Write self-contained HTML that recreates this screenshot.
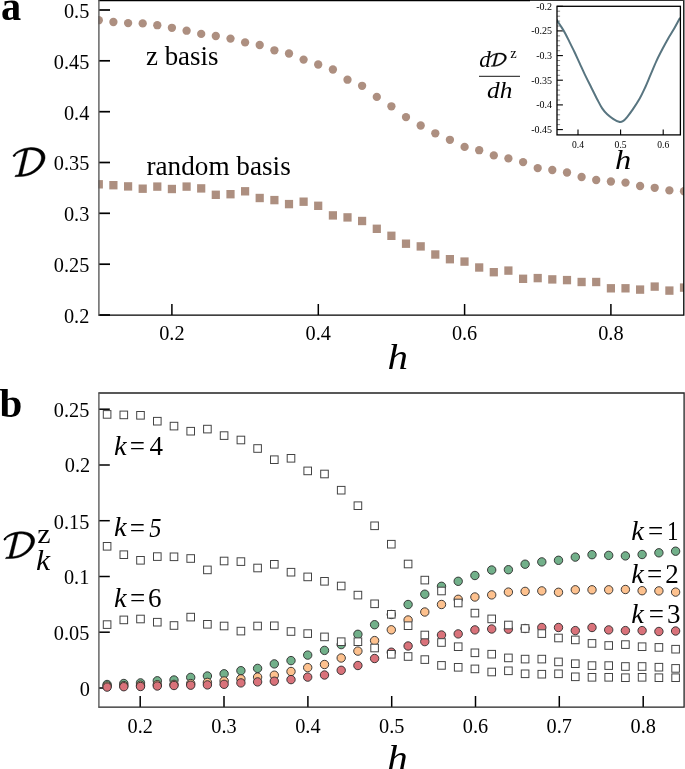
<!DOCTYPE html><html><head><meta charset="utf-8"><style>html,body{margin:0;padding:0;background:#fff;}svg{display:block;will-change:transform;font-family:'Liberation Serif', serif;}</style></head><body><svg width="685" height="769" viewBox="0 0 685 769"><rect width="685" height="769" fill="#fff"/><defs><clipPath id="ca"><rect x="98.2" y="0" width="585.5" height="315.2"/></clipPath><clipPath id="cb"><rect x="98.2" y="393" width="585.8" height="314"/></clipPath><clipPath id="ci"><rect x="557" y="6.3" width="123.4" height="128.6"/></clipPath></defs><line x1="99" y1="10.0" x2="110" y2="10.0" stroke="#000" stroke-width="1.7"/><line x1="99" y1="60.8" x2="110" y2="60.8" stroke="#000" stroke-width="1.7"/><line x1="99" y1="111.7" x2="110" y2="111.7" stroke="#000" stroke-width="1.7"/><line x1="99" y1="162.5" x2="110" y2="162.5" stroke="#000" stroke-width="1.7"/><line x1="99" y1="213.3" x2="110" y2="213.3" stroke="#000" stroke-width="1.7"/><line x1="99" y1="264.2" x2="110" y2="264.2" stroke="#000" stroke-width="1.7"/><line x1="99" y1="315.0" x2="110" y2="315.0" stroke="#000" stroke-width="1.7"/><line x1="171.9" y1="304" x2="171.9" y2="315" stroke="#000" stroke-width="1.5"/><line x1="318.3" y1="304" x2="318.3" y2="315" stroke="#000" stroke-width="1.5"/><line x1="464.6" y1="304" x2="464.6" y2="315" stroke="#000" stroke-width="1.5"/><line x1="610.9" y1="304" x2="610.9" y2="315" stroke="#000" stroke-width="1.5"/><g clip-path="url(#ca)" fill="#ad8f80"><circle cx="98.8" cy="20.2" r="4.15"/><circle cx="113.4" cy="22" r="4.15"/><circle cx="128.1" cy="23.1" r="4.15"/><circle cx="142.7" cy="23.4" r="4.15"/><circle cx="157.3" cy="25.2" r="4.15"/><circle cx="171.9" cy="27.8" r="4.15"/><circle cx="186.6" cy="30.7" r="4.15"/><circle cx="201.2" cy="33.9" r="4.15"/><circle cx="215.8" cy="36" r="4.15"/><circle cx="230.5" cy="38.6" r="4.15"/><circle cx="245.1" cy="42.4" r="4.15"/><circle cx="259.7" cy="45" r="4.15"/><circle cx="274.4" cy="50.3" r="4.15"/><circle cx="289.0" cy="53.5" r="4.15"/><circle cx="303.6" cy="59.6" r="4.15"/><circle cx="318.2" cy="64.5" r="4.15"/><circle cx="332.9" cy="69.5" r="4.15"/><circle cx="347.5" cy="79.7" r="4.15"/><circle cx="362.1" cy="85.8" r="4.15"/><circle cx="376.8" cy="96.9" r="4.15"/><circle cx="391.4" cy="106.3" r="4.15"/><circle cx="406.0" cy="117.1" r="4.15"/><circle cx="420.7" cy="125.5" r="4.15"/><circle cx="435.3" cy="133.3" r="4.15"/><circle cx="449.9" cy="139.8" r="4.15"/><circle cx="464.6" cy="146.9" r="4.15"/><circle cx="479.2" cy="150.2" r="4.15"/><circle cx="493.8" cy="155.4" r="4.15"/><circle cx="508.4" cy="158.4" r="4.15"/><circle cx="523.1" cy="162.1" r="4.15"/><circle cx="537.7" cy="168.1" r="4.15"/><circle cx="552.3" cy="170" r="4.15"/><circle cx="567.0" cy="172.5" r="4.15"/><circle cx="581.6" cy="177" r="4.15"/><circle cx="596.2" cy="180" r="4.15"/><circle cx="610.9" cy="181.5" r="4.15"/><circle cx="625.5" cy="182.6" r="4.15"/><circle cx="640.1" cy="186" r="4.15"/><circle cx="654.7" cy="187.8" r="4.15"/><circle cx="669.4" cy="190.4" r="4.15"/><circle cx="684.0" cy="191.2" r="4.15"/><rect x="94.7" y="180.1" width="8.2" height="8.4"/><rect x="109.3" y="181.0" width="8.2" height="8.4"/><rect x="124.0" y="182.2" width="8.2" height="8.4"/><rect x="138.6" y="184.5" width="8.2" height="8.4"/><rect x="153.2" y="182.4" width="8.2" height="8.4"/><rect x="167.8" y="184.8" width="8.2" height="8.4"/><rect x="182.5" y="182.4" width="8.2" height="8.4"/><rect x="197.1" y="184.2" width="8.2" height="8.4"/><rect x="211.7" y="190.6" width="8.2" height="8.4"/><rect x="226.4" y="190.0" width="8.2" height="8.4"/><rect x="241.0" y="187.1" width="8.2" height="8.4"/><rect x="255.6" y="193.8" width="8.2" height="8.4"/><rect x="270.3" y="195.9" width="8.2" height="8.4"/><rect x="284.9" y="199.9" width="8.2" height="8.4"/><rect x="299.5" y="197.5" width="8.2" height="8.4"/><rect x="314.1" y="201.6" width="8.2" height="8.4"/><rect x="328.8" y="211.2" width="8.2" height="8.4"/><rect x="343.4" y="213.2" width="8.2" height="8.4"/><rect x="358.0" y="216.8" width="8.2" height="8.4"/><rect x="372.7" y="224.6" width="8.2" height="8.4"/><rect x="387.3" y="231.6" width="8.2" height="8.4"/><rect x="401.9" y="239.5" width="8.2" height="8.4"/><rect x="416.6" y="242.2" width="8.2" height="8.4"/><rect x="431.2" y="250.3" width="8.2" height="8.4"/><rect x="445.8" y="255.0" width="8.2" height="8.4"/><rect x="460.4" y="257.4" width="8.2" height="8.4"/><rect x="475.1" y="263.3" width="8.2" height="8.4"/><rect x="489.7" y="268.0" width="8.2" height="8.4"/><rect x="504.3" y="266.4" width="8.2" height="8.4"/><rect x="519.0" y="274.6" width="8.2" height="8.4"/><rect x="533.6" y="273.9" width="8.2" height="8.4"/><rect x="548.2" y="275.2" width="8.2" height="8.4"/><rect x="562.9" y="275.9" width="8.2" height="8.4"/><rect x="577.5" y="277.8" width="8.2" height="8.4"/><rect x="592.1" y="277.8" width="8.2" height="8.4"/><rect x="606.8" y="284.1" width="8.2" height="8.4"/><rect x="621.4" y="284.1" width="8.2" height="8.4"/><rect x="636.0" y="285.4" width="8.2" height="8.4"/><rect x="650.6" y="282.4" width="8.2" height="8.4"/><rect x="665.3" y="286.4" width="8.2" height="8.4"/><rect x="679.9" y="283.4" width="8.2" height="8.4"/></g><path d="M530 0.3 H683.8 V315.2 H98.5" fill="none" stroke="#000" stroke-width="1.3"/><line x1="98.5" y1="0.5" x2="530" y2="0.5" stroke="#000" stroke-width="1.3"/><rect x="530" y="0" width="154" height="0.4" fill="#fff" fill-opacity="0.5"/><line x1="98.9" y1="0" x2="98.9" y2="315.8" stroke="#5a5a5a" stroke-width="1.4"/><text x="89.3" y="17.9" font-size="20.3" text-anchor="end">0.5</text><text x="89.3" y="68.7" font-size="20.3" text-anchor="end">0.45</text><text x="89.3" y="119.6" font-size="20.3" text-anchor="end">0.4</text><text x="89.3" y="170.4" font-size="20.3" text-anchor="end">0.35</text><text x="89.3" y="221.2" font-size="20.3" text-anchor="end">0.3</text><text x="89.3" y="272.1" font-size="20.3" text-anchor="end">0.25</text><text x="89.3" y="322.9" font-size="20.3" text-anchor="end">0.2</text><text x="171.9" y="339.6" font-size="20.3" text-anchor="middle">0.2</text><text x="318.3" y="339.6" font-size="20.3" text-anchor="middle">0.4</text><text x="464.6" y="339.6" font-size="20.3" text-anchor="middle">0.6</text><text x="610.9" y="339.6" font-size="20.3" text-anchor="middle">0.8</text><text transform="translate(1.1,19.8) scale(0.96,1)" font-size="42" font-weight="bold">a</text><text transform="translate(387.5,368.6) scale(1.14,1)" font-size="36" font-style="italic">h</text><g transform="translate(13.1,147.2) scale(0.985,0.985)" fill="#000" stroke="#000" stroke-width="0.5" stroke-linejoin="round"><path d="M0.2 8.4 C2.4 5 8 1.4 16.5 0.5 C26 -0.3 33 4 32.4 11 C31.7 19 22 28.6 10 29.6 L1.8 29.9 L2.6 28.4 L10 27.8 C20 26.6 28.5 18.5 28.8 11 C29 5 23 2.3 16.5 2.6 C9 3 3.6 6 0.9 9 Z"/><path d="M11.9 2.1 L15 2.1 L8.9 28.2 L5.6 28.2 Z"/><ellipse cx="1.3" cy="8.5" rx="1.3" ry="0.9" transform="rotate(-35 1.3 8.5)"/></g><text x="146" y="64.5" font-size="26.9">z basis</text><text x="146.5" y="175" font-size="27.2">random basis</text><rect x="557" y="6.3" width="123.4" height="128.6" fill="#fff"/><line x1="557" y1="6.3" x2="562.9" y2="6.3" stroke="#000" stroke-width="1.1"/><line x1="557" y1="11.2" x2="560.1" y2="11.2" stroke="#555" stroke-width="0.7"/><line x1="557" y1="16.2" x2="560.1" y2="16.2" stroke="#555" stroke-width="0.7"/><line x1="557" y1="21.1" x2="560.1" y2="21.1" stroke="#555" stroke-width="0.7"/><line x1="557" y1="26.0" x2="560.1" y2="26.0" stroke="#555" stroke-width="0.7"/><line x1="557" y1="30.9" x2="562.9" y2="30.9" stroke="#000" stroke-width="1.1"/><line x1="557" y1="35.9" x2="560.1" y2="35.9" stroke="#555" stroke-width="0.7"/><line x1="557" y1="40.8" x2="560.1" y2="40.8" stroke="#555" stroke-width="0.7"/><line x1="557" y1="45.7" x2="560.1" y2="45.7" stroke="#555" stroke-width="0.7"/><line x1="557" y1="50.7" x2="560.1" y2="50.7" stroke="#555" stroke-width="0.7"/><line x1="557" y1="55.6" x2="562.9" y2="55.6" stroke="#000" stroke-width="1.1"/><line x1="557" y1="60.5" x2="560.1" y2="60.5" stroke="#555" stroke-width="0.7"/><line x1="557" y1="65.5" x2="560.1" y2="65.5" stroke="#555" stroke-width="0.7"/><line x1="557" y1="70.4" x2="560.1" y2="70.4" stroke="#555" stroke-width="0.7"/><line x1="557" y1="75.3" x2="560.1" y2="75.3" stroke="#555" stroke-width="0.7"/><line x1="557" y1="80.2" x2="562.9" y2="80.2" stroke="#000" stroke-width="1.1"/><line x1="557" y1="85.2" x2="560.1" y2="85.2" stroke="#555" stroke-width="0.7"/><line x1="557" y1="90.1" x2="560.1" y2="90.1" stroke="#555" stroke-width="0.7"/><line x1="557" y1="95.0" x2="560.1" y2="95.0" stroke="#555" stroke-width="0.7"/><line x1="557" y1="100.0" x2="560.1" y2="100.0" stroke="#555" stroke-width="0.7"/><line x1="557" y1="104.9" x2="562.9" y2="104.9" stroke="#000" stroke-width="1.1"/><line x1="557" y1="109.8" x2="560.1" y2="109.8" stroke="#555" stroke-width="0.7"/><line x1="557" y1="114.8" x2="560.1" y2="114.8" stroke="#555" stroke-width="0.7"/><line x1="557" y1="119.7" x2="560.1" y2="119.7" stroke="#555" stroke-width="0.7"/><line x1="557" y1="124.6" x2="560.1" y2="124.6" stroke="#555" stroke-width="0.7"/><line x1="557" y1="129.6" x2="562.9" y2="129.6" stroke="#000" stroke-width="1.1"/><line x1="578.0" y1="129.5" x2="578.0" y2="135" stroke="#000" stroke-width="1.1"/><line x1="620.6" y1="129.5" x2="620.6" y2="135" stroke="#000" stroke-width="1.1"/><line x1="663.2" y1="129.5" x2="663.2" y2="135" stroke="#000" stroke-width="1.1"/><g clip-path="url(#ci)"><path d="M556.5,19.6 C557.38,20.93 560.25,25.12 561.8,27.6 C563.35,30.08 564.48,32.03 565.8,34.5 C567.12,36.97 568.23,39.45 569.7,42.4 C571.17,45.35 572.95,48.75 574.6,52.2 C576.25,55.65 577.78,59.15 579.6,63.1 C581.42,67.05 583.53,71.80 585.5,75.9 C587.47,80.00 589.43,83.77 591.4,87.7 C593.37,91.63 595.50,96.05 597.3,99.5 C599.10,102.95 600.55,105.93 602.2,108.4 C603.85,110.87 605.38,112.57 607.2,114.3 C609.02,116.03 611.13,117.55 613.1,118.8 C615.07,120.05 617.37,121.40 619,121.8 C620.63,122.20 621.58,121.95 622.9,121.2 C624.22,120.45 625.25,119.27 626.9,117.3 C628.55,115.33 630.67,112.53 632.8,109.4 C634.93,106.27 637.73,101.95 639.7,98.5 C641.67,95.05 642.80,92.63 644.6,88.7 C646.40,84.77 648.53,79.50 650.5,74.9 C652.47,70.30 654.43,65.37 656.4,61.1 C658.37,56.83 660.33,53.08 662.3,49.3 C664.27,45.52 666.22,41.85 668.2,38.4 C670.18,34.95 672.22,32.05 674.2,28.6 C676.18,25.15 679.12,19.52 680.1,17.7" fill="none" stroke="#587580" stroke-width="2" stroke-linejoin="round"/></g><rect x="557" y="6.3" width="123.4" height="128.6" fill="none" stroke="#000" stroke-width="1.3"/><text x="552" y="9.8" font-size="10" text-anchor="end">-0.2</text><text x="552" y="34.4" font-size="10" text-anchor="end">-0.25</text><text x="552" y="59.1" font-size="10" text-anchor="end">-0.3</text><text x="552" y="83.7" font-size="10" text-anchor="end">-0.35</text><text x="552" y="108.4" font-size="10" text-anchor="end">-0.4</text><text x="552" y="133.1" font-size="10" text-anchor="end">-0.45</text><text x="578.0" y="147.8" font-size="9.6" text-anchor="middle">0.4</text><text x="620.6" y="147.8" font-size="9.6" text-anchor="middle">0.5</text><text x="663.2" y="147.8" font-size="9.6" text-anchor="middle">0.6</text><text transform="translate(615,169.0) scale(1.2,1)" font-size="27" font-style="italic">h</text><text transform="translate(479.2,66.8) scale(1.0,1)" font-size="23" font-style="italic">d</text><g transform="translate(490.2,52.9) scale(0.5,0.45)" fill="#000" stroke="#000" stroke-width="0.9" stroke-linejoin="round"><path d="M0.2 8.4 C2.4 5 8 1.4 16.5 0.5 C26 -0.3 33 4 32.4 11 C31.7 19 22 28.6 10 29.6 L1.8 29.9 L2.6 28.4 L10 27.8 C20 26.6 28.5 18.5 28.8 11 C29 5 23 2.3 16.5 2.6 C9 3 3.6 6 0.9 9 Z"/><path d="M11.9 2.1 L15 2.1 L8.9 28.2 L5.6 28.2 Z"/><ellipse cx="1.3" cy="8.5" rx="1.3" ry="0.9" transform="rotate(-35 1.3 8.5)"/></g><text x="510.2" y="57.6" font-size="14.5">z</text><line x1="479" y1="76.4" x2="520" y2="76.4" stroke="#444" stroke-width="1.2"/><text transform="translate(487,98) scale(1.1,1)" font-size="23" font-style="italic">dh</text><line x1="99" y1="409.2" x2="109.8" y2="409.2" stroke="#000" stroke-width="1.5"/><line x1="99" y1="465.0" x2="109.8" y2="465.0" stroke="#000" stroke-width="1.5"/><line x1="99" y1="520.7" x2="109.8" y2="520.7" stroke="#000" stroke-width="1.5"/><line x1="99" y1="576.5" x2="109.8" y2="576.5" stroke="#000" stroke-width="1.5"/><line x1="99" y1="632.2" x2="109.8" y2="632.2" stroke="#000" stroke-width="1.5"/><line x1="99" y1="688.0" x2="109.8" y2="688.0" stroke="#000" stroke-width="1.5"/><line x1="140.2" y1="696" x2="140.2" y2="707" stroke="#000" stroke-width="1.5"/><line x1="224.0" y1="696" x2="224.0" y2="707" stroke="#000" stroke-width="1.5"/><line x1="307.9" y1="696" x2="307.9" y2="707" stroke="#000" stroke-width="1.5"/><line x1="391.7" y1="696" x2="391.7" y2="707" stroke="#000" stroke-width="1.5"/><line x1="475.5" y1="696" x2="475.5" y2="707" stroke="#000" stroke-width="1.5"/><line x1="559.3" y1="696" x2="559.3" y2="707" stroke="#000" stroke-width="1.5"/><line x1="643.2" y1="696" x2="643.2" y2="707" stroke="#000" stroke-width="1.5"/><g clip-path="url(#cb)"><circle cx="107.1" cy="684.5" r="4.2" fill="#72b08a" stroke="#2a2a2a" stroke-width="0.9"/><circle cx="123.8" cy="683.5" r="4.2" fill="#72b08a" stroke="#2a2a2a" stroke-width="0.9"/><circle cx="140.5" cy="682.9" r="4.2" fill="#72b08a" stroke="#2a2a2a" stroke-width="0.9"/><circle cx="157.3" cy="680.8" r="4.2" fill="#72b08a" stroke="#2a2a2a" stroke-width="0.9"/><circle cx="174.0" cy="680" r="4.2" fill="#72b08a" stroke="#2a2a2a" stroke-width="0.9"/><circle cx="190.7" cy="677.4" r="4.2" fill="#72b08a" stroke="#2a2a2a" stroke-width="0.9"/><circle cx="207.4" cy="676" r="4.2" fill="#72b08a" stroke="#2a2a2a" stroke-width="0.9"/><circle cx="224.1" cy="673.8" r="4.2" fill="#72b08a" stroke="#2a2a2a" stroke-width="0.9"/><circle cx="240.9" cy="670.7" r="4.2" fill="#72b08a" stroke="#2a2a2a" stroke-width="0.9"/><circle cx="257.6" cy="668.4" r="4.2" fill="#72b08a" stroke="#2a2a2a" stroke-width="0.9"/><circle cx="274.3" cy="663.9" r="4.2" fill="#72b08a" stroke="#2a2a2a" stroke-width="0.9"/><circle cx="291.0" cy="660.6" r="4.2" fill="#72b08a" stroke="#2a2a2a" stroke-width="0.9"/><circle cx="307.7" cy="655.1" r="4.2" fill="#72b08a" stroke="#2a2a2a" stroke-width="0.9"/><circle cx="324.5" cy="650.4" r="4.2" fill="#72b08a" stroke="#2a2a2a" stroke-width="0.9"/><circle cx="341.2" cy="644.6" r="4.2" fill="#72b08a" stroke="#2a2a2a" stroke-width="0.9"/><circle cx="357.9" cy="634.3" r="4.2" fill="#72b08a" stroke="#2a2a2a" stroke-width="0.9"/><circle cx="374.6" cy="624.7" r="4.2" fill="#72b08a" stroke="#2a2a2a" stroke-width="0.9"/><circle cx="391.3" cy="614.5" r="4.2" fill="#72b08a" stroke="#2a2a2a" stroke-width="0.9"/><circle cx="408.1" cy="604.5" r="4.2" fill="#72b08a" stroke="#2a2a2a" stroke-width="0.9"/><circle cx="424.8" cy="594.2" r="4.2" fill="#72b08a" stroke="#2a2a2a" stroke-width="0.9"/><circle cx="441.5" cy="586.3" r="4.2" fill="#72b08a" stroke="#2a2a2a" stroke-width="0.9"/><circle cx="458.2" cy="581.3" r="4.2" fill="#72b08a" stroke="#2a2a2a" stroke-width="0.9"/><circle cx="474.9" cy="575.5" r="4.2" fill="#72b08a" stroke="#2a2a2a" stroke-width="0.9"/><circle cx="491.7" cy="570" r="4.2" fill="#72b08a" stroke="#2a2a2a" stroke-width="0.9"/><circle cx="508.4" cy="569.7" r="4.2" fill="#72b08a" stroke="#2a2a2a" stroke-width="0.9"/><circle cx="525.1" cy="564.2" r="4.2" fill="#72b08a" stroke="#2a2a2a" stroke-width="0.9"/><circle cx="541.8" cy="561.9" r="4.2" fill="#72b08a" stroke="#2a2a2a" stroke-width="0.9"/><circle cx="558.5" cy="560.3" r="4.2" fill="#72b08a" stroke="#2a2a2a" stroke-width="0.9"/><circle cx="575.3" cy="557.1" r="4.2" fill="#72b08a" stroke="#2a2a2a" stroke-width="0.9"/><circle cx="592.0" cy="554.7" r="4.2" fill="#72b08a" stroke="#2a2a2a" stroke-width="0.9"/><circle cx="608.7" cy="555.4" r="4.2" fill="#72b08a" stroke="#2a2a2a" stroke-width="0.9"/><circle cx="625.4" cy="555.9" r="4.2" fill="#72b08a" stroke="#2a2a2a" stroke-width="0.9"/><circle cx="642.1" cy="554.5" r="4.2" fill="#72b08a" stroke="#2a2a2a" stroke-width="0.9"/><circle cx="658.9" cy="552.8" r="4.2" fill="#72b08a" stroke="#2a2a2a" stroke-width="0.9"/><circle cx="675.6" cy="551.2" r="4.2" fill="#72b08a" stroke="#2a2a2a" stroke-width="0.9"/><circle cx="107.1" cy="686" r="4.2" fill="#fdc18e" stroke="#2a2a2a" stroke-width="0.9"/><circle cx="123.8" cy="685.6" r="4.2" fill="#fdc18e" stroke="#2a2a2a" stroke-width="0.9"/><circle cx="140.5" cy="685.2" r="4.2" fill="#fdc18e" stroke="#2a2a2a" stroke-width="0.9"/><circle cx="157.3" cy="684.7" r="4.2" fill="#fdc18e" stroke="#2a2a2a" stroke-width="0.9"/><circle cx="174.0" cy="684.4" r="4.2" fill="#fdc18e" stroke="#2a2a2a" stroke-width="0.9"/><circle cx="190.7" cy="683.6" r="4.2" fill="#fdc18e" stroke="#2a2a2a" stroke-width="0.9"/><circle cx="207.4" cy="682.4" r="4.2" fill="#fdc18e" stroke="#2a2a2a" stroke-width="0.9"/><circle cx="224.1" cy="681" r="4.2" fill="#fdc18e" stroke="#2a2a2a" stroke-width="0.9"/><circle cx="240.9" cy="678.9" r="4.2" fill="#fdc18e" stroke="#2a2a2a" stroke-width="0.9"/><circle cx="257.6" cy="677.1" r="4.2" fill="#fdc18e" stroke="#2a2a2a" stroke-width="0.9"/><circle cx="274.3" cy="675.2" r="4.2" fill="#fdc18e" stroke="#2a2a2a" stroke-width="0.9"/><circle cx="291.0" cy="671.5" r="4.2" fill="#fdc18e" stroke="#2a2a2a" stroke-width="0.9"/><circle cx="307.7" cy="667.6" r="4.2" fill="#fdc18e" stroke="#2a2a2a" stroke-width="0.9"/><circle cx="324.5" cy="664.5" r="4.2" fill="#fdc18e" stroke="#2a2a2a" stroke-width="0.9"/><circle cx="341.2" cy="658" r="4.2" fill="#fdc18e" stroke="#2a2a2a" stroke-width="0.9"/><circle cx="357.9" cy="651.1" r="4.2" fill="#fdc18e" stroke="#2a2a2a" stroke-width="0.9"/><circle cx="374.6" cy="640.6" r="4.2" fill="#fdc18e" stroke="#2a2a2a" stroke-width="0.9"/><circle cx="391.3" cy="629.8" r="4.2" fill="#fdc18e" stroke="#2a2a2a" stroke-width="0.9"/><circle cx="408.1" cy="620" r="4.2" fill="#fdc18e" stroke="#2a2a2a" stroke-width="0.9"/><circle cx="424.8" cy="612" r="4.2" fill="#fdc18e" stroke="#2a2a2a" stroke-width="0.9"/><circle cx="441.5" cy="604.5" r="4.2" fill="#fdc18e" stroke="#2a2a2a" stroke-width="0.9"/><circle cx="458.2" cy="599.3" r="4.2" fill="#fdc18e" stroke="#2a2a2a" stroke-width="0.9"/><circle cx="474.9" cy="597" r="4.2" fill="#fdc18e" stroke="#2a2a2a" stroke-width="0.9"/><circle cx="491.7" cy="594.9" r="4.2" fill="#fdc18e" stroke="#2a2a2a" stroke-width="0.9"/><circle cx="508.4" cy="592.1" r="4.2" fill="#fdc18e" stroke="#2a2a2a" stroke-width="0.9"/><circle cx="525.1" cy="591.4" r="4.2" fill="#fdc18e" stroke="#2a2a2a" stroke-width="0.9"/><circle cx="541.8" cy="590.9" r="4.2" fill="#fdc18e" stroke="#2a2a2a" stroke-width="0.9"/><circle cx="558.5" cy="592.3" r="4.2" fill="#fdc18e" stroke="#2a2a2a" stroke-width="0.9"/><circle cx="575.3" cy="589.8" r="4.2" fill="#fdc18e" stroke="#2a2a2a" stroke-width="0.9"/><circle cx="592.0" cy="589.8" r="4.2" fill="#fdc18e" stroke="#2a2a2a" stroke-width="0.9"/><circle cx="608.7" cy="589.8" r="4.2" fill="#fdc18e" stroke="#2a2a2a" stroke-width="0.9"/><circle cx="625.4" cy="589.5" r="4.2" fill="#fdc18e" stroke="#2a2a2a" stroke-width="0.9"/><circle cx="642.1" cy="590.7" r="4.2" fill="#fdc18e" stroke="#2a2a2a" stroke-width="0.9"/><circle cx="658.9" cy="590.9" r="4.2" fill="#fdc18e" stroke="#2a2a2a" stroke-width="0.9"/><circle cx="675.6" cy="592.1" r="4.2" fill="#fdc18e" stroke="#2a2a2a" stroke-width="0.9"/><circle cx="107.1" cy="687.1" r="4.2" fill="#d9727a" stroke="#2a2a2a" stroke-width="0.9"/><circle cx="123.8" cy="686.7" r="4.2" fill="#d9727a" stroke="#2a2a2a" stroke-width="0.9"/><circle cx="140.5" cy="686.5" r="4.2" fill="#d9727a" stroke="#2a2a2a" stroke-width="0.9"/><circle cx="157.3" cy="686" r="4.2" fill="#d9727a" stroke="#2a2a2a" stroke-width="0.9"/><circle cx="174.0" cy="685.5" r="4.2" fill="#d9727a" stroke="#2a2a2a" stroke-width="0.9"/><circle cx="190.7" cy="685.2" r="4.2" fill="#d9727a" stroke="#2a2a2a" stroke-width="0.9"/><circle cx="207.4" cy="684.9" r="4.2" fill="#d9727a" stroke="#2a2a2a" stroke-width="0.9"/><circle cx="224.1" cy="684.3" r="4.2" fill="#d9727a" stroke="#2a2a2a" stroke-width="0.9"/><circle cx="240.9" cy="682.9" r="4.2" fill="#d9727a" stroke="#2a2a2a" stroke-width="0.9"/><circle cx="257.6" cy="681.9" r="4.2" fill="#d9727a" stroke="#2a2a2a" stroke-width="0.9"/><circle cx="274.3" cy="681.2" r="4.2" fill="#d9727a" stroke="#2a2a2a" stroke-width="0.9"/><circle cx="291.0" cy="679.6" r="4.2" fill="#d9727a" stroke="#2a2a2a" stroke-width="0.9"/><circle cx="307.7" cy="677.1" r="4.2" fill="#d9727a" stroke="#2a2a2a" stroke-width="0.9"/><circle cx="324.5" cy="675" r="4.2" fill="#d9727a" stroke="#2a2a2a" stroke-width="0.9"/><circle cx="341.2" cy="670.3" r="4.2" fill="#d9727a" stroke="#2a2a2a" stroke-width="0.9"/><circle cx="357.9" cy="665.5" r="4.2" fill="#d9727a" stroke="#2a2a2a" stroke-width="0.9"/><circle cx="374.6" cy="658.5" r="4.2" fill="#d9727a" stroke="#2a2a2a" stroke-width="0.9"/><circle cx="391.3" cy="652.2" r="4.2" fill="#d9727a" stroke="#2a2a2a" stroke-width="0.9"/><circle cx="408.1" cy="646" r="4.2" fill="#d9727a" stroke="#2a2a2a" stroke-width="0.9"/><circle cx="424.8" cy="641.6" r="4.2" fill="#d9727a" stroke="#2a2a2a" stroke-width="0.9"/><circle cx="441.5" cy="635" r="4.2" fill="#d9727a" stroke="#2a2a2a" stroke-width="0.9"/><circle cx="458.2" cy="633.9" r="4.2" fill="#d9727a" stroke="#2a2a2a" stroke-width="0.9"/><circle cx="474.9" cy="629.9" r="4.2" fill="#d9727a" stroke="#2a2a2a" stroke-width="0.9"/><circle cx="491.7" cy="629" r="4.2" fill="#d9727a" stroke="#2a2a2a" stroke-width="0.9"/><circle cx="508.4" cy="629.2" r="4.2" fill="#d9727a" stroke="#2a2a2a" stroke-width="0.9"/><circle cx="525.1" cy="628.5" r="4.2" fill="#d9727a" stroke="#2a2a2a" stroke-width="0.9"/><circle cx="541.8" cy="627.5" r="4.2" fill="#d9727a" stroke="#2a2a2a" stroke-width="0.9"/><circle cx="558.5" cy="627.5" r="4.2" fill="#d9727a" stroke="#2a2a2a" stroke-width="0.9"/><circle cx="575.3" cy="630.6" r="4.2" fill="#d9727a" stroke="#2a2a2a" stroke-width="0.9"/><circle cx="592.0" cy="627.5" r="4.2" fill="#d9727a" stroke="#2a2a2a" stroke-width="0.9"/><circle cx="608.7" cy="629.9" r="4.2" fill="#d9727a" stroke="#2a2a2a" stroke-width="0.9"/><circle cx="625.4" cy="630.6" r="4.2" fill="#d9727a" stroke="#2a2a2a" stroke-width="0.9"/><circle cx="642.1" cy="630.6" r="4.2" fill="#d9727a" stroke="#2a2a2a" stroke-width="0.9"/><circle cx="658.9" cy="631.5" r="4.2" fill="#d9727a" stroke="#2a2a2a" stroke-width="0.9"/><circle cx="675.6" cy="631" r="4.2" fill="#d9727a" stroke="#2a2a2a" stroke-width="0.9"/><rect x="103.3" y="410.6" width="7.6" height="7.6" fill="#fff" stroke="#444" stroke-width="1"/><rect x="120.0" y="411.1" width="7.6" height="7.6" fill="#fff" stroke="#444" stroke-width="1"/><rect x="136.7" y="411.5" width="7.6" height="7.6" fill="#fff" stroke="#444" stroke-width="1"/><rect x="153.5" y="417.4" width="7.6" height="7.6" fill="#fff" stroke="#444" stroke-width="1"/><rect x="170.2" y="422.3" width="7.6" height="7.6" fill="#fff" stroke="#444" stroke-width="1"/><rect x="186.9" y="427.4" width="7.6" height="7.6" fill="#fff" stroke="#444" stroke-width="1"/><rect x="203.6" y="425.3" width="7.6" height="7.6" fill="#fff" stroke="#444" stroke-width="1"/><rect x="220.3" y="431.8" width="7.6" height="7.6" fill="#fff" stroke="#444" stroke-width="1"/><rect x="237.1" y="436.2" width="7.6" height="7.6" fill="#fff" stroke="#444" stroke-width="1"/><rect x="253.8" y="444.7" width="7.6" height="7.6" fill="#fff" stroke="#444" stroke-width="1"/><rect x="270.5" y="455.9" width="7.6" height="7.6" fill="#fff" stroke="#444" stroke-width="1"/><rect x="287.2" y="454.5" width="7.6" height="7.6" fill="#fff" stroke="#444" stroke-width="1"/><rect x="303.9" y="467.1" width="7.6" height="7.6" fill="#fff" stroke="#444" stroke-width="1"/><rect x="320.7" y="470.2" width="7.6" height="7.6" fill="#fff" stroke="#444" stroke-width="1"/><rect x="337.4" y="486.4" width="7.6" height="7.6" fill="#fff" stroke="#444" stroke-width="1"/><rect x="354.1" y="501.9" width="7.6" height="7.6" fill="#fff" stroke="#444" stroke-width="1"/><rect x="370.8" y="522.0" width="7.6" height="7.6" fill="#fff" stroke="#444" stroke-width="1"/><rect x="387.5" y="540.4" width="7.6" height="7.6" fill="#fff" stroke="#444" stroke-width="1"/><rect x="404.3" y="560.2" width="7.6" height="7.6" fill="#fff" stroke="#444" stroke-width="1"/><rect x="421.0" y="576.3" width="7.6" height="7.6" fill="#fff" stroke="#444" stroke-width="1"/><rect x="437.7" y="587.2" width="7.6" height="7.6" fill="#fff" stroke="#444" stroke-width="1"/><rect x="454.4" y="599.2" width="7.6" height="7.6" fill="#fff" stroke="#444" stroke-width="1"/><rect x="471.1" y="609.3" width="7.6" height="7.6" fill="#fff" stroke="#444" stroke-width="1"/><rect x="487.9" y="615.1" width="7.6" height="7.6" fill="#fff" stroke="#444" stroke-width="1"/><rect x="504.6" y="621.2" width="7.6" height="7.6" fill="#fff" stroke="#444" stroke-width="1"/><rect x="521.3" y="624.7" width="7.6" height="7.6" fill="#fff" stroke="#444" stroke-width="1"/><rect x="538.0" y="629.8" width="7.6" height="7.6" fill="#fff" stroke="#444" stroke-width="1"/><rect x="554.7" y="634.2" width="7.6" height="7.6" fill="#fff" stroke="#444" stroke-width="1"/><rect x="571.5" y="636.1" width="7.6" height="7.6" fill="#fff" stroke="#444" stroke-width="1"/><rect x="588.2" y="639.6" width="7.6" height="7.6" fill="#fff" stroke="#444" stroke-width="1"/><rect x="604.9" y="641.7" width="7.6" height="7.6" fill="#fff" stroke="#444" stroke-width="1"/><rect x="621.6" y="640.8" width="7.6" height="7.6" fill="#fff" stroke="#444" stroke-width="1"/><rect x="638.3" y="642.9" width="7.6" height="7.6" fill="#fff" stroke="#444" stroke-width="1"/><rect x="655.1" y="643.6" width="7.6" height="7.6" fill="#fff" stroke="#444" stroke-width="1"/><rect x="671.8" y="645.4" width="7.6" height="7.6" fill="#fff" stroke="#444" stroke-width="1"/><rect x="103.3" y="542.5" width="7.6" height="7.6" fill="#fff" stroke="#444" stroke-width="1"/><rect x="120.0" y="550.9" width="7.6" height="7.6" fill="#fff" stroke="#444" stroke-width="1"/><rect x="136.7" y="556.5" width="7.6" height="7.6" fill="#fff" stroke="#444" stroke-width="1"/><rect x="153.5" y="552.8" width="7.6" height="7.6" fill="#fff" stroke="#444" stroke-width="1"/><rect x="170.2" y="553.0" width="7.6" height="7.6" fill="#fff" stroke="#444" stroke-width="1"/><rect x="186.9" y="554.7" width="7.6" height="7.6" fill="#fff" stroke="#444" stroke-width="1"/><rect x="203.6" y="566.1" width="7.6" height="7.6" fill="#fff" stroke="#444" stroke-width="1"/><rect x="220.3" y="557.2" width="7.6" height="7.6" fill="#fff" stroke="#444" stroke-width="1"/><rect x="237.1" y="557.8" width="7.6" height="7.6" fill="#fff" stroke="#444" stroke-width="1"/><rect x="253.8" y="564.2" width="7.6" height="7.6" fill="#fff" stroke="#444" stroke-width="1"/><rect x="270.5" y="560.5" width="7.6" height="7.6" fill="#fff" stroke="#444" stroke-width="1"/><rect x="287.2" y="568.4" width="7.6" height="7.6" fill="#fff" stroke="#444" stroke-width="1"/><rect x="303.9" y="573.1" width="7.6" height="7.6" fill="#fff" stroke="#444" stroke-width="1"/><rect x="320.7" y="577.5" width="7.6" height="7.6" fill="#fff" stroke="#444" stroke-width="1"/><rect x="337.4" y="582.2" width="7.6" height="7.6" fill="#fff" stroke="#444" stroke-width="1"/><rect x="354.1" y="591.3" width="7.6" height="7.6" fill="#fff" stroke="#444" stroke-width="1"/><rect x="370.8" y="600.0" width="7.6" height="7.6" fill="#fff" stroke="#444" stroke-width="1"/><rect x="387.5" y="610.5" width="7.6" height="7.6" fill="#fff" stroke="#444" stroke-width="1"/><rect x="404.3" y="621.9" width="7.6" height="7.6" fill="#fff" stroke="#444" stroke-width="1"/><rect x="421.0" y="631.2" width="7.6" height="7.6" fill="#fff" stroke="#444" stroke-width="1"/><rect x="437.7" y="638.7" width="7.6" height="7.6" fill="#fff" stroke="#444" stroke-width="1"/><rect x="454.4" y="642.9" width="7.6" height="7.6" fill="#fff" stroke="#444" stroke-width="1"/><rect x="471.1" y="649.0" width="7.6" height="7.6" fill="#fff" stroke="#444" stroke-width="1"/><rect x="487.9" y="650.4" width="7.6" height="7.6" fill="#fff" stroke="#444" stroke-width="1"/><rect x="504.6" y="654.1" width="7.6" height="7.6" fill="#fff" stroke="#444" stroke-width="1"/><rect x="521.3" y="655.3" width="7.6" height="7.6" fill="#fff" stroke="#444" stroke-width="1"/><rect x="538.0" y="655.3" width="7.6" height="7.6" fill="#fff" stroke="#444" stroke-width="1"/><rect x="554.7" y="658.1" width="7.6" height="7.6" fill="#fff" stroke="#444" stroke-width="1"/><rect x="571.5" y="659.9" width="7.6" height="7.6" fill="#fff" stroke="#444" stroke-width="1"/><rect x="588.2" y="661.8" width="7.6" height="7.6" fill="#fff" stroke="#444" stroke-width="1"/><rect x="604.9" y="661.8" width="7.6" height="7.6" fill="#fff" stroke="#444" stroke-width="1"/><rect x="621.6" y="662.7" width="7.6" height="7.6" fill="#fff" stroke="#444" stroke-width="1"/><rect x="638.3" y="662.7" width="7.6" height="7.6" fill="#fff" stroke="#444" stroke-width="1"/><rect x="655.1" y="663.4" width="7.6" height="7.6" fill="#fff" stroke="#444" stroke-width="1"/><rect x="671.8" y="664.6" width="7.6" height="7.6" fill="#fff" stroke="#444" stroke-width="1"/><rect x="103.3" y="620.8" width="7.6" height="7.6" fill="#fff" stroke="#444" stroke-width="1"/><rect x="120.0" y="616.1" width="7.6" height="7.6" fill="#fff" stroke="#444" stroke-width="1"/><rect x="136.7" y="615.2" width="7.6" height="7.6" fill="#fff" stroke="#444" stroke-width="1"/><rect x="153.5" y="618.4" width="7.6" height="7.6" fill="#fff" stroke="#444" stroke-width="1"/><rect x="170.2" y="621.7" width="7.6" height="7.6" fill="#fff" stroke="#444" stroke-width="1"/><rect x="186.9" y="613.3" width="7.6" height="7.6" fill="#fff" stroke="#444" stroke-width="1"/><rect x="203.6" y="620.5" width="7.6" height="7.6" fill="#fff" stroke="#444" stroke-width="1"/><rect x="220.3" y="622.2" width="7.6" height="7.6" fill="#fff" stroke="#444" stroke-width="1"/><rect x="237.1" y="627.3" width="7.6" height="7.6" fill="#fff" stroke="#444" stroke-width="1"/><rect x="253.8" y="622.2" width="7.6" height="7.6" fill="#fff" stroke="#444" stroke-width="1"/><rect x="270.5" y="622.0" width="7.6" height="7.6" fill="#fff" stroke="#444" stroke-width="1"/><rect x="287.2" y="627.7" width="7.6" height="7.6" fill="#fff" stroke="#444" stroke-width="1"/><rect x="303.9" y="629.8" width="7.6" height="7.6" fill="#fff" stroke="#444" stroke-width="1"/><rect x="320.7" y="633.1" width="7.6" height="7.6" fill="#fff" stroke="#444" stroke-width="1"/><rect x="337.4" y="637.9" width="7.6" height="7.6" fill="#fff" stroke="#444" stroke-width="1"/><rect x="354.1" y="637.9" width="7.6" height="7.6" fill="#fff" stroke="#444" stroke-width="1"/><rect x="370.8" y="644.2" width="7.6" height="7.6" fill="#fff" stroke="#444" stroke-width="1"/><rect x="387.5" y="650.5" width="7.6" height="7.6" fill="#fff" stroke="#444" stroke-width="1"/><rect x="404.3" y="652.7" width="7.6" height="7.6" fill="#fff" stroke="#444" stroke-width="1"/><rect x="421.0" y="655.8" width="7.6" height="7.6" fill="#fff" stroke="#444" stroke-width="1"/><rect x="437.7" y="661.6" width="7.6" height="7.6" fill="#fff" stroke="#444" stroke-width="1"/><rect x="454.4" y="663.5" width="7.6" height="7.6" fill="#fff" stroke="#444" stroke-width="1"/><rect x="471.1" y="665.1" width="7.6" height="7.6" fill="#fff" stroke="#444" stroke-width="1"/><rect x="487.9" y="668.2" width="7.6" height="7.6" fill="#fff" stroke="#444" stroke-width="1"/><rect x="504.6" y="667.0" width="7.6" height="7.6" fill="#fff" stroke="#444" stroke-width="1"/><rect x="521.3" y="670.0" width="7.6" height="7.6" fill="#fff" stroke="#444" stroke-width="1"/><rect x="538.0" y="670.4" width="7.6" height="7.6" fill="#fff" stroke="#444" stroke-width="1"/><rect x="554.7" y="670.0" width="7.6" height="7.6" fill="#fff" stroke="#444" stroke-width="1"/><rect x="571.5" y="673.0" width="7.6" height="7.6" fill="#fff" stroke="#444" stroke-width="1"/><rect x="588.2" y="673.5" width="7.6" height="7.6" fill="#fff" stroke="#444" stroke-width="1"/><rect x="604.9" y="673.5" width="7.6" height="7.6" fill="#fff" stroke="#444" stroke-width="1"/><rect x="621.6" y="673.9" width="7.6" height="7.6" fill="#fff" stroke="#444" stroke-width="1"/><rect x="638.3" y="673.5" width="7.6" height="7.6" fill="#fff" stroke="#444" stroke-width="1"/><rect x="655.1" y="673.9" width="7.6" height="7.6" fill="#fff" stroke="#444" stroke-width="1"/><rect x="671.8" y="673.9" width="7.6" height="7.6" fill="#fff" stroke="#444" stroke-width="1"/></g><path d="M98.5 393 H684.1 V707.2 H98.5" fill="none" stroke="#222" stroke-width="1.3"/><line x1="98.9" y1="392.4" x2="98.9" y2="707.8" stroke="#5a5a5a" stroke-width="1.4"/><text x="89.3" y="417.0" font-size="20.3" text-anchor="end">0.25</text><text x="90.1" y="471.8" font-size="20.3" text-anchor="end">0.2</text><text x="89.3" y="528.5" font-size="20.3" text-anchor="end">0.15</text><text x="89.3" y="584.3" font-size="20.3" text-anchor="end">0.1</text><text x="89.3" y="640.0" font-size="20.3" text-anchor="end">0.05</text><text x="90.0" y="695.8" font-size="20.3" text-anchor="end">0</text><text x="140.2" y="732.8" font-size="20.3" text-anchor="middle">0.2</text><text x="224.0" y="732.8" font-size="20.3" text-anchor="middle">0.3</text><text x="307.9" y="732.8" font-size="20.3" text-anchor="middle">0.4</text><text x="391.7" y="732.8" font-size="20.3" text-anchor="middle">0.5</text><text x="475.5" y="732.8" font-size="20.3" text-anchor="middle">0.6</text><text x="559.3" y="732.8" font-size="20.3" text-anchor="middle">0.7</text><text x="643.2" y="732.8" font-size="20.3" text-anchor="middle">0.8</text><text x="-0.5" y="417.4" font-size="41" font-weight="bold">b</text><text transform="translate(387.3,769.5) scale(1.14,1)" font-size="36" font-style="italic">h</text><g transform="translate(3.8,531.4) scale(0.95,0.91)" fill="#000" stroke="#000" stroke-width="0.6" stroke-linejoin="round"><path d="M0.2 8.4 C2.4 5 8 1.4 16.5 0.5 C26 -0.3 33 4 32.4 11 C31.7 19 22 28.6 10 29.6 L1.8 29.9 L2.6 28.4 L10 27.8 C20 26.6 28.5 18.5 28.8 11 C29 5 23 2.3 16.5 2.6 C9 3 3.6 6 0.9 9 Z"/><path d="M11.9 2.1 L15 2.1 L8.9 28.2 L5.6 28.2 Z"/><ellipse cx="1.3" cy="8.5" rx="1.3" ry="0.9" transform="rotate(-35 1.3 8.5)"/></g><text transform="translate(37.3,542.9) scale(1.09,1)" font-size="27.5">z</text><text transform="translate(35.9,569.9) scale(1.1,1)" font-size="28.8" font-style="italic">k</text><text transform="translate(113.9,454.5) scale(1.05,1)" font-size="27" font-style="italic">k</text><text x="129.8" y="454.5" font-size="27">=</text><text x="149.4" y="454.5" font-size="27">4</text><text transform="translate(113.9,535.5) scale(1.05,1)" font-size="27" font-style="italic">k</text><text x="129.8" y="536.5" font-size="27">=</text><text transform="translate(149.2,536.7) scale(0.87,1)" font-size="28" font-style="italic">5</text><text transform="translate(113.9,606.9) scale(1.05,1)" font-size="27" font-style="italic">k</text><text x="130.1" y="606.9" font-size="27">=</text><text x="148.1" y="606.9" font-size="27">6</text><text transform="translate(631.3,539.6) scale(1.05,1)" font-size="27" font-style="italic">k</text><text x="648.1" y="539.6" font-size="27">=</text><text transform="translate(667.0,539.6) scale(0.85,1)" font-size="27">1</text><text transform="translate(631.3,582.8) scale(1.05,1)" font-size="27" font-style="italic">k</text><text x="646.9" y="582.8" font-size="27">=</text><text x="665.2" y="582.8" font-size="27">2</text><text transform="translate(631.3,623.3) scale(1.05,1)" font-size="27" font-style="italic">k</text><text x="648.7" y="623.3" font-size="27">=</text><text x="667.0" y="623.3" font-size="27">3</text></svg></body></html>
